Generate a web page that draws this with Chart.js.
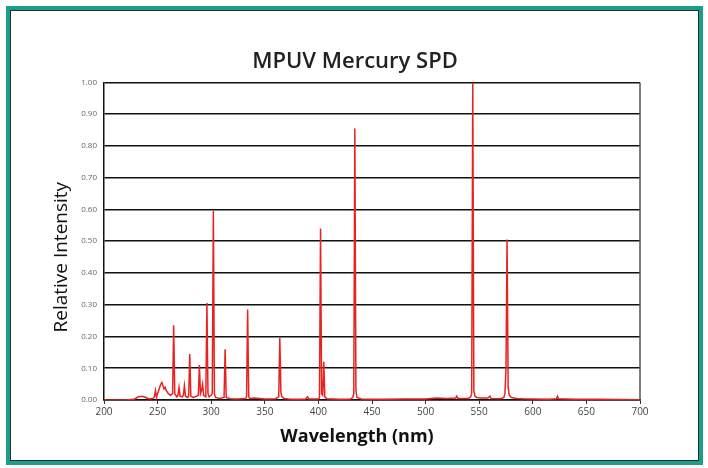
<!DOCTYPE html>
<html>
<head>
<meta charset="utf-8">
<script src="https://cdn.jsdelivr.net/npm/chart.js@4/dist/chart.umd.min.js"></script>
<style>
    html, body { margin: 0; padding: 0; background: #ffffff; }
    #wrap { position: relative; width: 708px; height: 468px; }
    #line_chart { position: absolute; left: 0; top: 0; }
    #frame {
        position: absolute; left: 6px; top: 6px; width: 689px; height: 451px;
        border: 4px solid #17a08a; pointer-events: none;
    }
    #frame_inner {
        position: absolute; left: 0; top: 0; right: 0; bottom: 0;
        border: 1px solid #2b2b2b;
    }
</style>
</head>
<body>
<div id="wrap">
    <canvas id="line_chart" width="708" height="468"></canvas>
    <div id="frame"><div id="frame_inner"></div></div>
</div>
<script>
// wavelength (nm) and relative intensity
var wavelengths = [200, 220, 228, 232, 236, 239, 242, 246, 247, 248, 249, 250, 252, 253, 254, 255, 256, 257, 258, 260,
    262, 264, 265, 266, 268, 269, 270, 271, 273, 274, 275, 276, 278, 279, 280, 281, 283, 285, 288, 289,
    290, 291, 292, 293, 295, 296, 297, 298, 300, 301, 302, 303, 304, 308, 312, 313, 314, 318, 325, 332,
    333, 334, 335, 336, 340, 350, 360, 363, 364, 365, 366, 368, 372, 380, 388, 390, 391, 400, 401, 402,
    403, 404, 405, 406, 408, 420, 430, 432, 433, 434, 435, 436, 440, 460, 480, 500, 510, 520, 528, 529,
    530, 540, 542, 543, 544, 545, 546, 548, 552, 558, 560, 561, 570, 573, 574, 575, 576, 577, 578, 580,
    585, 590, 600, 615, 622, 623, 624, 640, 660, 700];
var intensity = [0.000, 0.000, 0.002, 0.010, 0.012, 0.008, 0.003, 0.005, 0.010, 0.030, 0.008, 0.020, 0.040, 0.050, 0.055, 0.045, 0.035, 0.040, 0.030, 0.020,
    0.015, 0.020, 0.235, 0.020, 0.010, 0.015, 0.040, 0.012, 0.010, 0.015, 0.045, 0.012, 0.008, 0.012, 0.145, 0.012, 0.008, 0.010, 0.015, 0.110,
    0.020, 0.030, 0.050, 0.015, 0.010, 0.305, 0.020, 0.010, 0.015, 0.020, 0.595, 0.020, 0.008, 0.005, 0.008, 0.160, 0.008, 0.004, 0.003, 0.005,
    0.010, 0.285, 0.010, 0.005, 0.006, 0.003, 0.004, 0.010, 0.195, 0.025, 0.010, 0.005, 0.003, 0.002, 0.003, 0.010, 0.003, 0.003, 0.008, 0.540,
    0.020, 0.015, 0.120, 0.010, 0.004, 0.002, 0.003, 0.008, 0.020, 0.855, 0.030, 0.008, 0.003, 0.002, 0.003, 0.003, 0.006, 0.005, 0.006, 0.012,
    0.005, 0.005, 0.010, 0.020, 1.000, 0.030, 0.012, 0.008, 0.006, 0.006, 0.012, 0.005, 0.004, 0.008, 0.020, 0.100, 0.505, 0.040, 0.015, 0.008,
    0.005, 0.004, 0.003, 0.002, 0.004, 0.012, 0.004, 0.002, 0.002, 0.001];
var xTicks = [200, 250, 300, 350, 400, 450, 500, 550, 600, 650, 700];
var yTicks = [0, 0.1, 0.2, 0.3, 0.4, 0.5, 0.6, 0.7, 0.8, 0.9, 1.0];
var xTitle = 'Wavelength (nm)';
var yTitle = 'Relative Intensity';

var points = wavelengths.map(function (w, i) { return { x: w, y: intensity[i] }; });

// right edge of the plot box, and the axis titles centred on the whole figure like the original
var extras = {
    id: 'extras',
    afterDraw: function (chart) {
        var ctx = chart.ctx, a = chart.chartArea;
        ctx.save();
        ctx.strokeStyle = '#555';
        ctx.lineWidth = 1.5;
        ctx.beginPath();
        ctx.moveTo(a.right, a.top);
        ctx.lineTo(a.right, a.bottom);
        ctx.stroke();

        ctx.fillStyle = '#111';
        ctx.textAlign = 'center';
        ctx.textBaseline = 'middle';
        ctx.font = 'bold 18px "Open Sans"';
        ctx.fillText(xTitle, chart.width / 2 + 3, a.bottom + 37);

        ctx.translate(a.left - 42, (a.top + a.bottom) / 2 + 16);
        ctx.rotate(-Math.PI / 2);
        ctx.font = '19px "Open Sans"';
        ctx.fillText(yTitle, 0, 0);
        ctx.restore();
    }
};

new Chart(document.getElementById("line_chart").getContext("2d"), {
    type: 'line',
    data: {
        datasets: [{
            label: "MPUV Mercury",
            data: points,
            borderColor: '#e8231f',
            borderWidth: 1.5,
            pointRadius: 0,
            tension: 0,
            fill: false
        }]
    },
    options: {
        responsive: false,
        animation: false,
        layout: { padding: { top: 12, left: 70, right: 68, bottom: 19 } },
        plugins: {
            legend: { display: false },
            tooltip: { enabled: false },
            title: {
                display: true,
                text: 'MPUV Mercury SPD',
                color: '#222',
                font: { family: 'Open Sans', size: 22, weight: '600' },
                padding: { top: 37, bottom: 7 }
            }
        },
        scales: {
            x: {
                type: 'linear',
                min: 200,
                max: 700,
                afterBuildTicks: function (scale) {
                    scale.ticks = xTicks.map(function (v) { return { value: v }; });
                },
                afterFit: function (scale) { scale.height = 49; },
                grid: { drawOnChartArea: false, drawTicks: true, tickLength: 4, color: '#333' },
                border: { color: '#111', width: 1.5 },
                ticks: { color: '#444', font: { family: 'Open Sans', size: 10 }, padding: 2 }
            },
            y: {
                min: 0,
                max: 1,
                afterBuildTicks: function (scale) {
                    scale.ticks = yTicks.map(function (v) { return { value: v }; });
                },
                afterFit: function (scale) { scale.width = 34; },
                grid: { drawTicks: false, color: '#111', lineWidth: 1.5 },
                border: { color: '#111', width: 1.5 },
                ticks: {
                    color: '#666',
                    font: { family: 'Open Sans', size: 8 },
                    padding: 7,
                    callback: function (v) { return v.toFixed(2); }
                }
            }
        }
    },
    plugins: [extras]
});
</script>
</body>
</html>
